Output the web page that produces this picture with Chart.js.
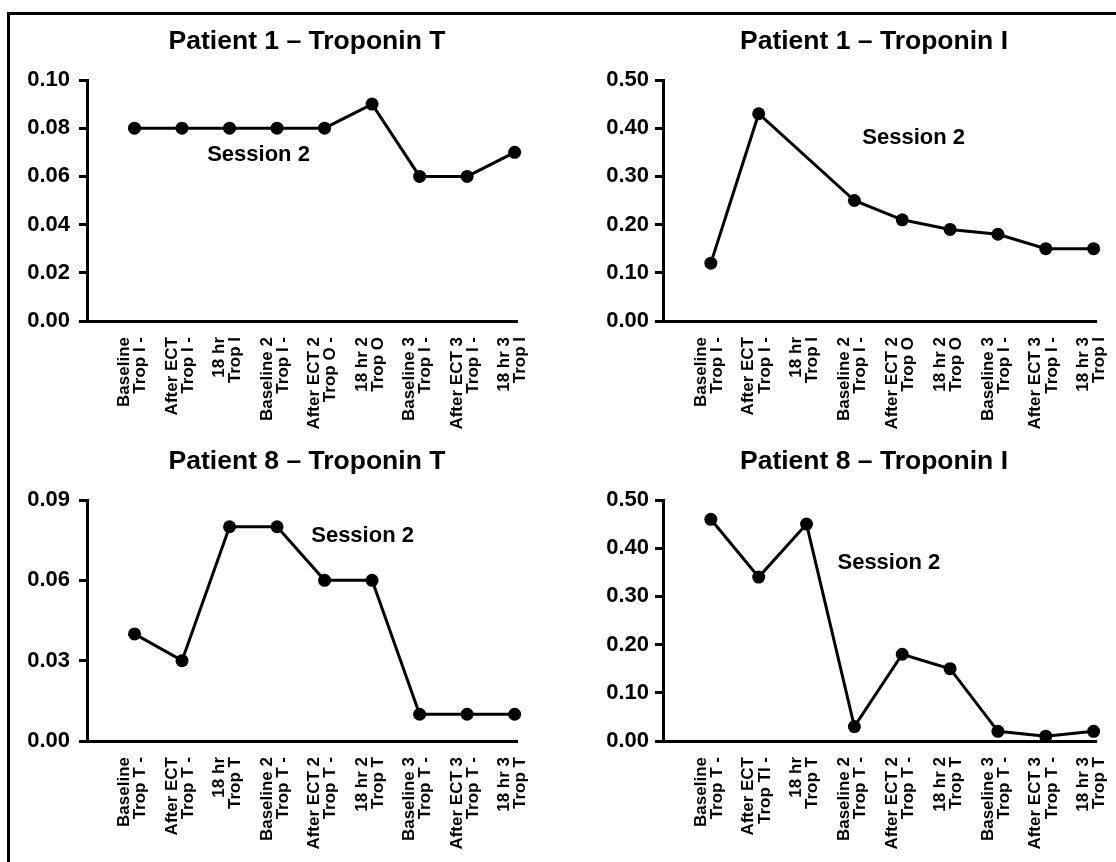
<!DOCTYPE html>
<html>
<head>
<meta charset="utf-8">
<script src="https://cdn.jsdelivr.net/npm/chart.js@4/dist/chart.umd.min.js"></script>
<style>
  html, body { margin: 0; padding: 0; background: #fff; }
  body { width: 1116px; height: 862px; position: relative; overflow: hidden; }
  #frame { position: absolute; left: 7px; top: 12px; right: -10px; bottom: -10px;
           border-left: 3px solid #000; border-top: 3px solid #000; }
  canvas { position: absolute; }
</style>
</head>
<body>
<div id="frame"></div>
<canvas id="c1" width="558" height="440" style="left:0;top:0"></canvas>
<canvas id="c2" width="558" height="440" style="left:558px;top:0"></canvas>
<canvas id="c3" width="558" height="442" style="left:0;top:420px"></canvas>
<canvas id="c4" width="558" height="442" style="left:558px;top:420px"></canvas>
<script>
// ---- Data ----
const titles = ['Patient 1 \u2013 Troponin T', 'Patient 1 \u2013 Troponin I',
                'Patient 8 \u2013 Troponin T', 'Patient 8 \u2013 Troponin I'];
const noteText = 'Session 2';

const labelsP1T = [['Baseline','Trop I -'],['After ECT','Trop I -'],['18 hr','Trop I'],
  ['Baseline 2','Trop I -'],['After ECT 2','Trop O -'],['18 hr 2','Trop O'],
  ['Baseline 3','Trop I -'],['After ECT 3','Trop I -'],['18 hr 3','Trop I']];
const labelsP1I = [['Baseline','Trop I -'],['After ECT','Trop I -'],['18 hr','Trop I'],
  ['Baseline 2','Trop I -'],['After ECT 2','Trop O'],['18 hr 2','Trop O'],
  ['Baseline 3','Trop I -'],['After ECT 3','Trop I -'],['18 hr 3','Trop I']];
const labelsP8T = [['Baseline','Trop T -'],['After ECT','Trop T -'],['18 hr','Trop T'],
  ['Baseline 2','Trop T -'],['After ECT 2','Trop T -'],['18 hr 2','Trop T'],
  ['Baseline 3','Trop T -'],['After ECT 3','Trop T -'],['18 hr 3','Trop T']];
const labelsP8I = [['Baseline','Trop T -'],['After ECT','Trop TI -'],['18 hr','Trop T'],
  ['Baseline 2','Trop T -'],['After ECT 2','Trop T -'],['18 hr 2','Trop T'],
  ['Baseline 3','Trop T -'],['After ECT 3','Trop T -'],['18 hr 3','Trop T']];

const valuesP1T = [0.08, 0.08, 0.08, 0.08, 0.08, 0.09, 0.06, 0.06, 0.07];
const valuesP1I = [0.12, 0.43, null, 0.25, 0.21, 0.19, 0.18, 0.15, 0.15];
const valuesP8T = [0.04, 0.03, 0.08, 0.08, 0.06, 0.06, 0.01, 0.01, 0.01];
const valuesP8I = [0.46, 0.34, 0.45, 0.03, 0.18, 0.15, 0.02, 0.01, 0.02];

const yTicksP1T = [0, 0.02, 0.04, 0.06, 0.08, 0.10];
const yTicksP1I = [0, 0.10, 0.20, 0.30, 0.40, 0.50];
const yTicksP8T = [0, 0.03, 0.06, 0.09];
const yTicksP8I = [0, 0.10, 0.20, 0.30, 0.40, 0.50];

// annotation positions in data units [x, y]
const noteP1T = [3.61, 0.0689];
const noteP1I = [5.24, 0.38];
const noteP8T = [5.80, 0.0766];
const noteP8I = [4.72, 0.369];

// ---- Drawing ----
const FONT = '"Liberation Sans", Arial, Helvetica, sans-serif';

const panelText = {
  id: 'panelText',
  afterDraw(chart, args, o) {
    const ctx = chart.ctx;
    ctx.save();
    ctx.fillStyle = '#000';
    ctx.textAlign = 'center';
    ctx.textBaseline = 'middle';
    ctx.font = 'bold 26.5px ' + FONT;
    ctx.fillText(o.title, o.titleX, o.titleY);
    ctx.font = 'bold 22px ' + FONT;
    ctx.fillText(o.note, chart.scales.x.getPixelForValue(o.noteAt[0]),
                 chart.scales.y.getPixelForValue(o.noteAt[1]));
    ctx.restore();
  }
};

function makeChart(id, title, labels, values, yTicks, noteAt, cfg) {
  const xTicks = labels.map((l, i) => i + 1);
  new Chart(document.getElementById(id), {
    type: 'line',
    data: {
      datasets: [{
        data: values.map((v, i) => ({ x: i + 1, y: v })),
        borderColor: '#000',
        backgroundColor: '#000',
        borderWidth: 3,
        pointRadius: 6.5,
        pointHoverRadius: 6.5,
        pointBackgroundColor: '#000',
        pointBorderColor: '#000',
        pointBorderWidth: 0,
        spanGaps: true,
        clip: false,
        tension: 0
      }]
    },
    options: {
      responsive: false,
      animation: false,
      events: [],
      layout: { padding: { top: 80, left: 0, right: cfg.padRight, bottom: 0 } },
      plugins: {
        legend: { display: false },
        title: { display: false },
        tooltip: { enabled: false },
        panelText: { title: title, titleX: cfg.titleX, titleY: 42, note: noteText, noteAt: noteAt }
      },
      scales: {
        x: {
          type: 'linear',
          min: 0,
          max: 9.05,
          afterBuildTicks: s => { s.ticks = xTicks.map(v => ({ value: v })); },
          afterFit: s => { s.height = cfg.xHeight; s.paddingLeft = 0; s.paddingRight = 0; },
          grid: { display: true, drawOnChartArea: false, drawTicks: false },
          border: { display: true, color: '#000', width: 3 },
          ticks: {
            autoSkip: false,
            minRotation: 90,
            maxRotation: 90,
            padding: 16,
            labelOffset: -10,
            color: '#000',
            font: { family: FONT, size: 17, weight: 'bold', lineHeight: 0.95 },
            callback: v => labels[v - 1] || ''
          }
        },
        y: {
          min: 0,
          max: yTicks[yTicks.length - 1],
          afterBuildTicks: s => { s.ticks = yTicks.map(v => ({ value: v })); },
          afterFit: s => { s.width = cfg.yWidth; s.paddingTop = 0; s.paddingBottom = 0; },
          grid: { display: true, drawOnChartArea: false, drawTicks: true, tickLength: 8, tickWidth: 3, tickColor: '#000' },
          border: { display: true, color: '#000', width: 3 },
          ticks: {
            padding: cfg.yPad,
            color: '#000',
            font: { family: FONT, size: 22, weight: 'bold' },
            callback: v => Number(v).toFixed(2)
          }
        }
      }
    },
    plugins: [panelText]
  });
}

const leftCfgTop  = { padRight: 41, yWidth: 87,  xHeight: 440 - 321, titleX: 307, yPad: 9 };
const rightCfgTop = { padRight: 20, yWidth: 105, xHeight: 440 - 321, titleX: 316, yPad: 6 };
const leftCfgBot  = { padRight: 41, yWidth: 87,  xHeight: 442 - 321, titleX: 307, yPad: 9 };
const rightCfgBot = { padRight: 20, yWidth: 105, xHeight: 442 - 321, titleX: 316, yPad: 6 };

makeChart('c1', titles[0], labelsP1T, valuesP1T, yTicksP1T, noteP1T, leftCfgTop);
makeChart('c2', titles[1], labelsP1I, valuesP1I, yTicksP1I, noteP1I, rightCfgTop);
makeChart('c3', titles[2], labelsP8T, valuesP8T, yTicksP8T, noteP8T, leftCfgBot);
makeChart('c4', titles[3], labelsP8I, valuesP8I, yTicksP8I, noteP8I, rightCfgBot);
</script>
</body>
</html>
